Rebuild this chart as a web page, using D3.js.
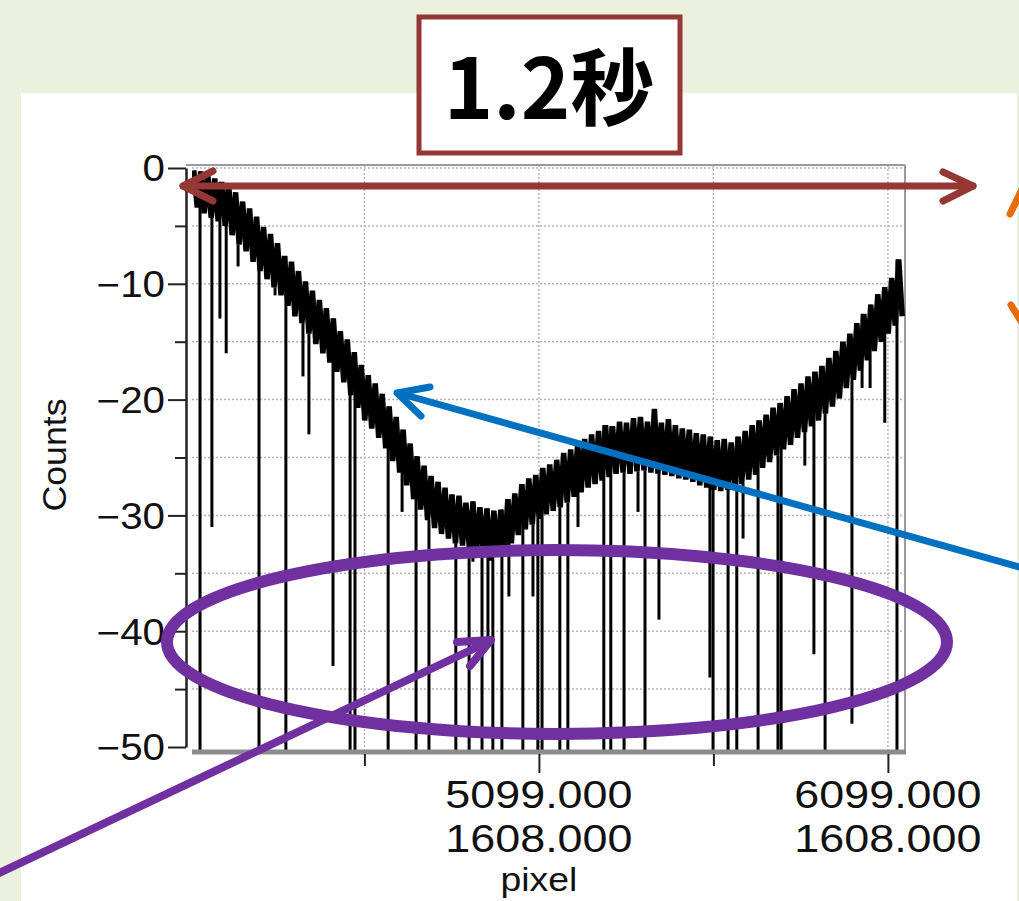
<!DOCTYPE html>
<html>
<head>
<meta charset="utf-8">
<script src="https://cdn.jsdelivr.net/npm/d3@7"></script>
<style>
  body { margin: 0; background: #ebf1de; }
  svg { display: block; }
  .tick text { font-family: "Liberation Sans", Arial, sans-serif; fill: #111; }
</style>
</head>
<body>
<script>
let width = 1019,
    height = 901;

// spectrum, one sample every 10 pixels starting at pixel 4110
let pixelStart = 4110,
    pixelStep = 10;
let counts = [
  -0.2, -3.4, -0.3, -3.9, -0.5, -4.3, -0.9, -4.6, -1.2, -5.0,
  -1.4, -5.8, -2.1, -6.6, -2.9, -7.2, -3.5, -8.1, -4.2, -8.9,
  -5.1, -9.6, -5.7, -10.3, -6.5, -11.0, -7.6, -11.9, -8.1, -12.8,
  -8.9, -13.4, -9.8, -14.3, -10.6, -15.2, -11.4, -16.0, -12.1, -16.8,
  -13.0, -17.6, -14.1, -18.5, -14.8, -19.6, -15.9, -20.7, -17.0, -21.8,
  -17.9, -22.5, -18.6, -23.3, -19.5, -24.2, -20.6, -25.3, -21.5, -26.3,
  -22.6, -27.4, -23.8, -28.6, -24.9, -29.5, -25.7, -30.4, -26.6, -31.1,
  -27.1, -31.6, -27.6, -32.0, -28.2, -32.4, -28.3, -32.6, -28.9, -32.9,
  -28.8, -33.2, -29.3, -33.4, -29.4, -33.9, -29.6, -33.6, -29.5, -33.2,
  -28.6, -32.4, -28.1, -31.7, -27.3, -31.2, -26.8, -30.8, -26.5, -30.3,
  -25.9, -29.9, -25.6, -29.6, -25.2, -29.3, -24.6, -28.9, -24.3, -28.4,
  -23.8, -28.0, -23.4, -27.6, -23.0, -27.3, -22.7, -27.0, -22.2, -26.7,
  -22.3, -26.4, -21.9, -26.3, -22.0, -26.4, -21.6, -26.2, -21.5, -26.1,
  -21.9, -26.3, -20.8, -26.4, -22.0, -26.5, -21.7, -26.6, -22.2, -26.8,
  -22.5, -26.9, -22.6, -27.1, -22.9, -27.4, -23.0, -27.6, -23.2, -27.8,
  -23.5, -27.9, -23.4, -27.8, -23.7, -27.6, -23.2, -27.3, -22.7, -26.9,
  -22.2, -26.5, -21.8, -25.9, -21.3, -25.4, -20.7, -24.8, -20.3, -24.3,
  -19.7, -23.9, -19.1, -23.3, -18.6, -22.8, -18.0, -22.3, -17.6, -21.8,
  -17.1, -21.2, -16.4, -20.6, -15.8, -19.9, -15.0, -19.0, -14.3, -18.3,
  -13.4, -17.5, -12.6, -16.6, -11.8, -15.8, -10.9, -15.0, -10.3, -14.3,
  -9.5, -13.6, -7.9, -12.8
];

// single-pixel dropouts: where they are and how low they reach (-60 = off scale)
let spikePixels = [4128, 4162, 4185, 4203, 4237, 4297, 4343, 4374, 4423, 4440,
  4509, 4558, 4572, 4667, 4707, 4747, 4784, 4861, 4899, 4910,
  4936, 4953, 4967, 4993, 5013, 5053, 5082, 5096, 5108, 5159,
  5182, 5211, 5285, 5305, 5343, 5383, 5403, 5443, 5589, 5598,
  5641, 5666, 5684, 5727, 5784, 5793, 5861, 5887, 5919, 5996,
  6025, 6048, 6090, 6125];
let spikeCounts = [-60, -31, -13, -16, -8.5, -60, -11, -60, -18, -23,
  -43, -60, -60, -60, -29.7, -60, -60, -60, -60, -34,
  -60, -40.6, -60, -60, -37, -60, -37, -60, -60, -60,
  -60, -31, -60, -60, -60, -29.7, -60, -39, -44, -60,
  -60, -60, -32, -60, -60, -60, -25.7, -42, -60, -48,
  -19, -19, -22, -60];

let yTicks = [0, -10, -20, -30, -40, -50];
let yMinorTicks = [-5, -15, -25, -35, -45];
let xTicks = [5099, 6099];
let xMinorTicks = [4599, 5599];
let xTickLines1 = ["5099.000", "6099.000"];
let xTickLines2 = ["1608.000", "1608.000"];
let title = "1.2秒";

let svg = d3.select("body").append("svg")
    .attr("width", width).attr("height", height);

// slide panel
svg.append("rect").attr("width", width).attr("height", height).attr("fill", "#ebf1de");
svg.append("rect").attr("x", 21).attr("y", 93).attr("width", 996).attr("height", 820).attr("fill", "#ffffff");

let plotLeft = 192, plotRight = 905, plotTop = 165, plotBottom = 752;

let x = d3.scaleLinear().domain([4105, 6148]).range([plotLeft, plotRight]);
let y = d3.scaleLinear().domain([-50, 0]).range([747, 168]);

// grid
let grid = svg.append("g").attr("class", "grid");
grid.selectAll(".hgrid")
    .data(yTicks.concat(yMinorTicks).filter(d => d > -50))
    .enter().append("line")
    .attr("x1", plotLeft).attr("x2", plotRight)
    .attr("y1", d => y(d)).attr("y2", d => y(d))
    .attr("stroke", "#b5b5b5").attr("stroke-width", 1.5).attr("stroke-dasharray", "2,2");
grid.selectAll(".vgrid")
    .data(xTicks.concat(xMinorTicks))
    .enter().append("line")
    .attr("x1", d => x(d)).attr("x2", d => x(d))
    .attr("y1", plotTop).attr("y2", plotBottom)
    .attr("stroke", "#b5b5b5").attr("stroke-width", 1.5).attr("stroke-dasharray", "2,2");

// frame
svg.append("line").attr("x1", 186).attr("x2", plotRight).attr("y1", plotTop).attr("y2", plotTop)
    .attr("stroke", "#999").attr("stroke-width", 2);
svg.append("line").attr("x1", plotRight).attr("x2", plotRight).attr("y1", plotTop).attr("y2", plotBottom)
    .attr("stroke", "#999").attr("stroke-width", 2);

// data
svg.append("clipPath").attr("id", "plotclip")
  .append("rect").attr("x", plotLeft).attr("y", plotTop)
    .attr("width", plotRight - plotLeft).attr("height", plotBottom - plotTop);

let samples = counts.map((c, i) => ({p: pixelStart + i * pixelStep, c: c}));
let spikes = spikePixels.map((p, i) => ({
  p: p,
  c: spikeCounts[i],
  from: counts[Math.min(counts.length - 1, Math.max(0, Math.round((p - pixelStart) / pixelStep)))]
}));

let dataG = svg.append("g").attr("clip-path", "url(#plotclip)");

dataG.selectAll(".spike")
    .data(spikes)
    .enter().append("line")
    .attr("class", "spike")
    .attr("x1", d => x(d.p)).attr("x2", d => x(d.p))
    .attr("y1", d => y(d.from)).attr("y2", d => y(d.c))
    .attr("stroke", "#000").attr("stroke-width", 3);

let line = d3.line().x(d => x(d.p)).y(d => y(d.c));

dataG.append("path")
    .datum(samples)
    .attr("d", line)
    .attr("fill", "none")
    .attr("stroke", "#000")
    .attr("stroke-width", 5.5)
    .attr("stroke-linejoin", "bevel");

// bottom axis
svg.append("line").attr("x1", plotLeft).attr("x2", plotRight + 1).attr("y1", plotBottom).attr("y2", plotBottom)
    .attr("stroke", "#8c8c8c").attr("stroke-width", 5);

let xAxis = svg.append("g").attr("transform", "translate(0," + (plotBottom + 2) + ")")
    .call(d3.axisBottom(x).tickValues(xTicks).tickSize(19).tickSizeOuter(0).tickFormat(""));
xAxis.select(".domain").remove();
let xMinor = svg.append("g").attr("transform", "translate(0," + (plotBottom + 2) + ")")
    .call(d3.axisBottom(x).tickValues(xMinorTicks).tickSize(12).tickSizeOuter(0).tickFormat(""));
xMinor.select(".domain").remove();
svg.selectAll(".tick line").attr("stroke", "#222").attr("stroke-width", 2);

let labelFont = "'Liberation Sans', Arial, sans-serif";

function widen(sel, k) {
  sel.each(function () {
    let w = this.getComputedTextLength();
    d3.select(this).attr("textLength", w * k).attr("lengthAdjust", "spacingAndGlyphs");
  });
}

let xl1 = svg.selectAll(".xlab1").data(xTicks).enter().append("text")
    .attr("x", d => x(d)).attr("y", 808)
    .attr("text-anchor", "middle")
    .style("font-family", labelFont).style("font-size", "39px").attr("fill", "#111")
    .text((d, i) => xTickLines1[i]);
let xl2 = svg.selectAll(".xlab2").data(xTicks).enter().append("text")
    .attr("x", d => x(d)).attr("y", 852)
    .attr("text-anchor", "middle")
    .style("font-family", labelFont).style("font-size", "39px").attr("fill", "#111")
    .text((d, i) => xTickLines2[i]);
widen(xl1, 1.15);
widen(xl2, 1.15);

let xTitle = svg.append("text")
    .attr("x", x(5099)).attr("y", 891)
    .attr("text-anchor", "middle")
    .style("font-family", labelFont).style("font-size", "34px").attr("fill", "#111")
    .text("pixel");
widen(xTitle, 1.1);

// left axis
let yAxisG = svg.append("g").attr("transform", "translate(186,0)")
    .call(d3.axisLeft(y).tickValues(yTicks).tickSize(18).tickSizeOuter(0).tickPadding(3)
      .tickFormat(d => d === 0 ? "0" : "\u2212" + Math.abs(d)));
yAxisG.select(".domain").attr("stroke", "#222").attr("stroke-width", 2.5);
yAxisG.selectAll(".tick line").attr("stroke", "#222").attr("stroke-width", 2);
yAxisG.selectAll(".tick text").style("font-size", "36px").attr("dy", "0.36em");
widen(yAxisG.selectAll(".tick text"), 1.12);

let yMinorG = svg.append("g").attr("transform", "translate(186,0)")
    .call(d3.axisLeft(y).tickValues(yMinorTicks).tickSize(11).tickSizeOuter(0).tickFormat(""));
yMinorG.select(".domain").remove();
yMinorG.selectAll(".tick line").attr("stroke", "#222").attr("stroke-width", 2);

let yTitle = svg.append("text")
    .attr("transform", "translate(66,455) rotate(-90)")
    .attr("text-anchor", "middle")
    .style("font-family", labelFont).style("font-size", "34px").attr("fill", "#111")
    .text("Counts");
widen(yTitle, 1.05);

// title box
svg.append("rect").attr("x", 419).attr("y", 17).attr("width", 261).attr("height", 136)
    .attr("fill", "#fff").attr("stroke", "#953735").attr("stroke-width", 5);
svg.append("text")
    .attr("x", 549).attr("y", 119)
    .attr("text-anchor", "middle")
    .style("font-family", "'Noto Sans CJK JP', 'Noto Sans CJK SC', sans-serif")
    .style("font-weight", "700").style("font-size", "84px").attr("fill", "#000")
    .text(title);

// annotations
function arrow(color, w, x1, y1, x2, y2, heads) {
  let g = svg.append("g").attr("fill", "none").attr("stroke", color)
      .attr("stroke-width", w).attr("stroke-linecap", "round").attr("stroke-linejoin", "round");
  g.append("line").attr("x1", x1).attr("y1", y1).attr("x2", x2).attr("y2", y2);
  heads.forEach(h => g.append("path").attr("d", d3.line()(h)));
}

arrow("#953735", 7, 183, 186, 973, 186,
  [[[213, 171], [183, 186], [213, 201]], [[943, 172], [973, 186], [943, 201]]]);
arrow("#0070c0", 7, 1030, 570, 398, 393,
  [[[430, 387], [397, 393], [421, 416]]]);
arrow("#7030a0", 8, -5, 875, 490, 641,
  [[[457, 642], [491, 640], [470, 666]]]);

svg.append("ellipse")
    .attr("cx", 557).attr("cy", 642).attr("rx", 390).attr("ry", 92)
    .attr("fill", "none").attr("stroke", "#7030a0").attr("stroke-width", 12);

// orange shape leaking in from the right edge
let orange = svg.append("g").attr("stroke", "#e46c0a").attr("stroke-width", 7).attr("stroke-linecap", "round");
orange.append("line").attr("x1", 1010).attr("y1", 214).attr("x2", 1024).attr("y2", 185);
orange.append("line").attr("x1", 1011).attr("y1", 305).attr("x2", 1024).attr("y2", 326);
</script>
</body>
</html>
